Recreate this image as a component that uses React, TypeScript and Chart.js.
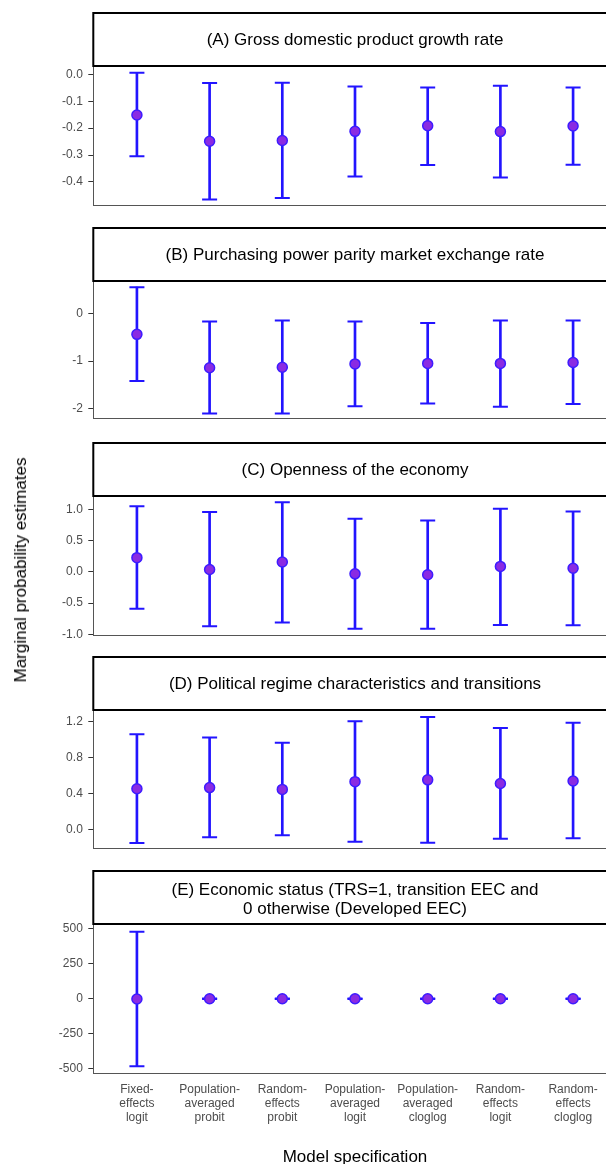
import React, { useEffect, useRef } from 'react';
import { Chart, registerables } from 'chart.js';

Chart.register(...registerables);

// ---------------- data ----------------
const categories: string[][] = [
  ['Fixed-', 'effects', 'logit'],
  ['Population-', 'averaged', 'probit'],
  ['Random-', 'effects', 'probit'],
  ['Population-', 'averaged', 'logit'],
  ['Population-', 'averaged', 'cloglog'],
  ['Random-', 'effects', 'logit'],
  ['Random-', 'effects', 'cloglog'],
];

const panelTitles: string[][] = [
  ['(A) Gross domestic product growth rate'],
  ['(B) Purchasing power parity market exchange rate'],
  ['(C) Openness of the economy'],
  ['(D) Political regime characteristics and transitions'],
  ['(E) Economic status (TRS=1, transition EEC and', '0 otherwise (Developed EEC)'],
];

const gdpEst = [-0.151, -0.249, -0.246, -0.212, -0.191, -0.213, -0.192];
const gdpLow = [-0.305, -0.465, -0.46, -0.38, -0.337, -0.384, -0.336];
const gdpHigh = [0.006, -0.032, -0.031, -0.045, -0.049, -0.042, -0.049];

const pppEst = [-0.44, -1.14, -1.13, -1.06, -1.05, -1.05, -1.03];
const pppLow = [-1.42, -2.1, -2.1, -1.95, -1.89, -1.96, -1.9];
const pppHigh = [0.55, -0.17, -0.15, -0.17, -0.2, -0.15, -0.15];

const openEst = [0.23, 0.04, 0.16, -0.03, -0.045, 0.09, 0.06];
const openLow = [-0.59, -0.871, -0.811, -0.911, -0.911, -0.851, -0.856];
const openHigh = [1.056, 0.965, 1.12, 0.855, 0.826, 1.015, 0.97];

const polEst = [0.454, 0.467, 0.447, 0.533, 0.553, 0.512, 0.54];
const polLow = [-0.145, -0.08, -0.059, -0.131, -0.141, -0.097, -0.093];
const polHigh = [1.056, 1.02, 0.963, 1.2, 1.248, 1.125, 1.183];

const econEst = [-2, 0, 0, 0, 0, 0, 0];
const econLow = [-483, -2, -2, -2, -2, -2, -2];
const econHigh = [479, 2, 2, 2, 2, 2, 2];

const gdpTicks = [0, -0.1, -0.2, -0.3, -0.4];
const pppTicks = [0, -1, -2];
const openTicks = [1, 0.5, 0, -0.5, -1];
const polTicks = [1.2, 0.8, 0.4, 0];
const econTicks = [500, 250, 0, -250, -500];

const yMins = [-0.487, -2.202, -1.017, -0.203, -530.7];
const yMaxs = [0.031, 0.68, 1.221, 1.324, 533.6];
const tickDigits = [1, 0, 1, 1, 0];

const yAxisTitle = 'Marginal probability estimates';
const xAxisTitle = 'Model specification';

// ---------------- layout / style ----------------
const FONT = "'Liberation Sans', Arial, Helvetica, sans-serif";
const CANVAS_W = 640;
const PLOT_LEFT = 93.3;
const PLOT_RIGHT = 616.7;
const HEADER_H = 53;
const headerTops = [13, 228, 443, 657, 871];
const plotBottoms = [215, 428, 645, 858, 1073];
const LAST_CANVAS_BOTTOM = 1175;

const BAR_COLOR = '#2214ff';
const POINT_FILL = '#8a2be2';
const POINT_EDGE = '#3d1cff';
const TICK_COLOR = '#4d4d4d';
const AXIS_COLOR = '#555555';

Chart.defaults.font.family = FONT;

const headerBox = {
  id: 'headerBox',
  afterDraw(chart: any) {
    const { ctx, chartArea } = chart;
    const tb = chart.titleBlock;
    if (!tb || !chartArea) return;
    ctx.save();
    ctx.strokeStyle = '#000';
    ctx.lineWidth = 2;
    ctx.strokeRect(chartArea.left, tb.top, chartArea.right - chartArea.left, tb.height);
    ctx.restore();
  },
};

const panelData = [
  { est: gdpEst, low: gdpLow, high: gdpHigh, ticks: gdpTicks },
  { est: pppEst, low: pppLow, high: pppHigh, ticks: pppTicks },
  { est: openEst, low: openLow, high: openHigh, ticks: openTicks },
  { est: polEst, low: polLow, high: polHigh, ticks: polTicks },
  { est: econEst, low: econLow, high: econHigh, ticks: econTicks },
];

function Panel({ idx }: { idx: number }) {
  const ref = useRef<HTMLCanvasElement | null>(null);
  const isLast = idx === panelData.length - 1;
  const canvasTop = headerTops[idx] - 3;
  const canvasH = isLast ? LAST_CANVAS_BOTTOM - canvasTop : plotBottoms[idx] + 3 - canvasTop;
  const xHeight = isLast ? LAST_CANVAS_BOTTOM - plotBottoms[idx] : 0;

  useEffect(() => {
    const d = panelData[idx];
    const xs = categories.map((_, i) => i + 1);
    const lines = panelTitles[idx];
    const lh = 17 * 1.12;
    const padTop = lines.length > 1 ? 9.5 : 18;
    const padBottom = HEADER_H - padTop - lines.length * lh;
    const chart = new Chart(ref.current as HTMLCanvasElement, {
      type: 'bar',
      data: {
        datasets: [
          {
            type: 'scatter',
            data: xs.map((x, i) => ({ x, y: d.est[i] })),
            pointRadius: 5,
            pointBorderWidth: 1.5,
            pointBackgroundColor: POINT_FILL,
            pointBorderColor: POINT_EDGE,
            order: 0,
          } as any,
          {
            type: 'scatter',
            data: [
              ...xs.map((x, i) => ({ x, y: d.low[i] })),
              ...xs.map((x, i) => ({ x, y: d.high[i] })),
            ],
            pointStyle: 'line',
            pointRadius: 7.5,
            pointBorderWidth: 2,
            pointBorderColor: BAR_COLOR,
            borderColor: BAR_COLOR,
            order: 1,
          } as any,
          {
            type: 'bar',
            data: xs.map((x, i) => ({ x, y: [d.low[i], d.high[i]] })),
            barThickness: 2,
            backgroundColor: BAR_COLOR,
            borderWidth: 0,
            order: 2,
          } as any,
        ],
      },
      options: {
        responsive: false,
        animation: false,
        devicePixelRatio: 1,
        layout: {
          padding: { top: 3, left: 0, right: CANVAS_W - PLOT_RIGHT, bottom: isLast ? 0 : 3 },
        },
        plugins: {
          legend: { display: false },
          tooltip: { enabled: false },
          title: {
            display: true,
            text: lines,
            fullSize: false,
            color: '#000',
            font: { family: FONT, size: 17, lineHeight: 1.12, weight: 'normal' },
            padding: { top: padTop, bottom: padBottom },
          },
        },
        scales: {
          x: {
            type: 'linear',
            offset: false,
            min: 0.4,
            max: 7.6,
            grid: { display: false, drawTicks: false, offset: false },
            border: { display: true, color: AXIS_COLOR, width: 1 },
            afterBuildTicks: (s: any) => {
              s.ticks = xs.map((v) => ({ value: v }));
            },
            afterFit: (s: any) => {
              s.height = xHeight;
            },
            ticks: {
              display: isLast,
              autoSkip: false,
              maxRotation: 0,
              minRotation: 0,
              padding: 10,
              color: TICK_COLOR,
              font: { family: FONT, size: 12, lineHeight: 1.1667 },
              callback: (_v: any, i: number) => categories[i],
            },
            title: {
              display: isLast,
              text: xAxisTitle,
              color: '#000',
              font: { family: FONT, size: 17, lineHeight: 1.2 },
              padding: { top: 0, bottom: 7.8 },
            },
          },
          y: {
            type: 'linear',
            min: yMins[idx],
            max: yMaxs[idx],
            afterBuildTicks: (s: any) => {
              s.ticks = d.ticks.map((v) => ({ value: v }));
            },
            afterFit: (s: any) => {
              s.width = PLOT_LEFT;
            },
            grid: {
              display: true,
              drawOnChartArea: false,
              drawTicks: true,
              tickLength: 5,
              color: '#333',
              lineWidth: 1,
            },
            border: { display: true, color: AXIS_COLOR, width: 1 },
            ticks: {
              padding: 5.5,
              color: TICK_COLOR,
              font: { family: FONT, size: 12 },
              callback: (v: any) => Number(v).toFixed(tickDigits[idx]),
            },
          },
        },
      } as any,
      plugins: [headerBox],
    });
    return () => chart.destroy();
  }, [idx]);

  return (
    <canvas
      ref={ref}
      width={CANVAS_W}
      height={canvasH}
      style={{ position: 'absolute', left: 0, top: canvasTop, width: CANVAS_W, height: canvasH }}
    />
  );
}

export default function App() {
  return (
    <div
      style={{
        position: 'absolute',
        left: 0,
        top: 0,
        width: 606,
        height: 1164,
        overflow: 'hidden',
        background: '#fff',
      }}
    >
      {panelData.map((_, i) => (
        <Panel key={i} idx={i} />
      ))}
      <div
        style={{
          position: 'absolute',
          left: 21,
          top: 570,
          transformOrigin: '0 0',
          transform: 'rotate(-90deg) translate(-50%, -50%)',
          whiteSpace: 'nowrap',
          fontFamily: FONT,
          fontSize: 17,
          lineHeight: '20px',
          color: '#000',
        }}
      >
        {yAxisTitle}
      </div>
    </div>
  );
}
